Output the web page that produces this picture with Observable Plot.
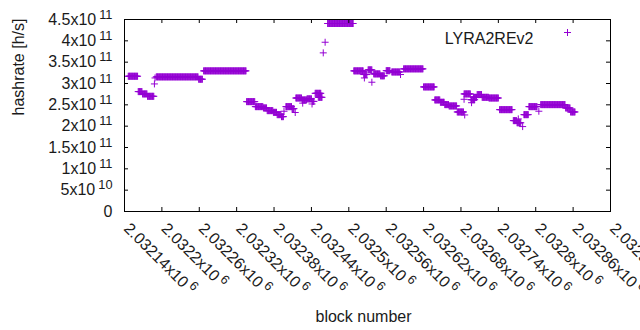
<!DOCTYPE html>
<html>
<head>
<meta charset="utf-8">
<script src="https://cdn.jsdelivr.net/npm/d3@7"></script>
<script src="https://cdn.jsdelivr.net/npm/@observablehq/plot@0.6"></script>
<style>
  html, body { margin: 0; padding: 0; background: white; }
  #chart svg { display: block; }
</style>
</head>
<body>
<div id="chart"></div>
<script>
// Runs of consecutive blocks that share one hashrate value (x 1e11 h/s)
const runStart = [2032146,2032162,2032169,2032177,2032188,2032189,2032191,2032259,2032267,2032336,
  2032350,2032363,2032369,2032379,2032385,2032392,2032396,2032399,2032409,2032414,
  2032415,2032425,2032426,2032433,2032441,2032442,2032446,2032451,2032459,2032462,
  2032466,2032508,2032524,2032525,2032531,2032537,2032540,2032551,2032560,2032569,
  2032583,2032588,2032620,2032638,2032647,2032654,2032661,2032674,2032686,2032685,
  2032685,2032696,2032697,2032700,2032706,2032714,2032725,2032742,2032764,2032770,
  2032772,2032779,2032781,2032789,2032805,2032808,2032848,2032856];
const runEnd = [2032161,2032168,2032176,2032187,2032188,2032189,2032258,2032265,2032335,2032349,
  2032362,2032368,2032378,2032384,2032391,2032395,2032396,2032408,2032412,2032414,
  2032424,2032432,2032426,2032440,2032441,2032444,2032455,2032457,2032459,2032462,
  2032507,2032523,2032529,2032525,2032537,2032537,2032550,2032557,2032566,2032582,
  2032583,2032619,2032637,2032646,2032653,2032660,2032673,2032684,2032686,2032695,
  2032685,2032702,2032697,2032705,2032713,2032724,2032740,2032762,2032769,2032776,
  2032772,2032779,2032788,2032802,2032805,2032847,2032855,2032863];
const runValue = [3.17,2.81,2.756,2.70,2.99,3.13,3.155,3.10,3.296,2.575,
  2.458,2.427,2.364,2.324,2.27,2.223,2.35,2.458,2.41,2.32,
  2.66,2.615,2.54,2.64,2.52,2.58,2.77,2.676,3.718,3.967,
  4.406,3.296,3.21,3.13,3.32,3.03,3.225,3.18,3.30,3.27,
  3.21,3.343,2.92,2.615,2.56,2.505,2.474,2.333,2.263,2.756,
  2.63,2.62,2.55,2.676,2.74,2.676,2.66,2.387,2.13,2.08,
  2.17,1.99,2.27,2.458,2.35,2.505,2.427,2.333];

// Axis ticks and labels
const xTickValues = [2032140,2032200,2032260,2032320,2032380,2032440,2032500,2032560,2032620,2032680,2032740,2032800,2032860,2032920];
const xTickLabels = ["2.03214","2.0322","2.03226","2.03232","2.03238","2.03244","2.0325","2.03256","2.03262","2.03268","2.03274","2.0328","2.03286","2.03292"];
const xTickExp = [6,6,6,6,6,6,6,6,6,6,6,6,6,6];
const yTickValues = [0,0.5e11,1e11,1.5e11,2e11,2.5e11,3e11,3.5e11,4e11,4.5e11];
const yTickLabels = ["0","5","1","1.5","2","2.5","3","3.5","4","4.5"];
const yTickExp = [null,10,11,11,11,11,11,11,11,11];

const seriesName = "LYRA2REv2";
const xTitle = "block number";
const yTitle = "hashrate [h/s]";
const color = "#9400d3";

const points = [];
runStart.forEach((s, i) => {
  for (let b = s; b <= runEnd[i]; b++) points.push({block: b, rate: runValue[i] * 1e11});
});

const plus = {
  draw(context, size) {
    const h = Math.sqrt(size / Math.PI);
    context.moveTo(-h, 0); context.lineTo(h, 0);
    context.moveTo(0, -h); context.lineTo(0, h);
  }
};

const W = 640, H = 330, ML = 124, MR = 30, MT = 19, MB = 119;
const FW = W - ML - MR, FH = H - MT - MB;
const fs = 16;
const txt = "#1a1a1a";

const chart = Plot.plot({
  width: W, height: H,
  marginLeft: ML, marginRight: MR, marginTop: MT, marginBottom: MB,
  style: {fontFamily: "'Liberation Sans', Arial, sans-serif", fontSize: "16px", background: "white", overflow: "visible"},
  x: {domain: [xTickValues[0], xTickValues[xTickValues.length - 1]], axis: null},
  y: {domain: [0, 4.5e11], axis: null},
  marks: [
    Plot.dot(points, {x: "block", y: "rate", symbol: plus, r: 3.5, stroke: color, fill: "none", strokeWidth: 1}),
    // ticks (inward, mirrored)
    Plot.tickX(xTickValues, {x: d => d, insetTop: FH - 4, stroke: "black"}),
    Plot.tickX(xTickValues, {x: d => d, insetBottom: FH - 4, stroke: "black"}),
    Plot.tickY(yTickValues, {y: d => d, insetRight: FW - 4, stroke: "black"}),
    Plot.tickY(yTickValues, {y: d => d, insetLeft: FW - 4, stroke: "black"}),
    Plot.frame({stroke: "black", strokeWidth: 1}),
    // tick labels
    Plot.text(yTickValues, {y: d => d, frameAnchor: "left", textAnchor: "end", dx: -12, fontSize: fs, fill: txt,
      text: (d, i) => yTickLabels[i] + (yTickExp[i] != null ? "x10^" + yTickExp[i] : "")}),
    Plot.text(xTickValues, {x: d => d, frameAnchor: "bottom", textAnchor: "start", lineAnchor: "bottom", rotate: 45,
      dx: -1.5, dy: 18, fontSize: fs, fill: txt,
      text: (d, i) => xTickLabels[i] + "x10^" + xTickExp[i]}),
    // titles
    Plot.text([yTitle], {frameAnchor: "left", dx: -106, rotate: -90, fontSize: fs, fill: txt, text: d => d}),
    Plot.text([xTitle], {frameAnchor: "bottom", dx: -4, dy: 110, lineAnchor: "bottom", fontSize: fs, fill: txt, text: d => d}),
    // legend
    Plot.text([seriesName], {frameAnchor: "top-right", dx: -77, dy: 13, textAnchor: "end", fontSize: fs, fill: txt, text: d => d}),
    Plot.dot([seriesName], {frameAnchor: "top-right", dx: -43, dy: 13, symbol: plus, r: 3.5, stroke: color, fill: "none", strokeWidth: 1})
  ]
});

// turn "x10^n" into a superscript tspan
chart.querySelectorAll("text").forEach(t => {
  const s = t.textContent;
  const k = s.indexOf("^");
  if (k < 0) return;
  t.textContent = s.slice(0, k);
  const sup = document.createElementNS("http://www.w3.org/2000/svg", "tspan");
  sup.setAttribute("dx", "3");
  sup.setAttribute("dy", "-6");
  sup.setAttribute("font-size", "12.8");
  sup.textContent = s.slice(k + 1);
  t.appendChild(sup);
});

document.getElementById("chart").appendChild(chart);
</script>
</body>
</html>
